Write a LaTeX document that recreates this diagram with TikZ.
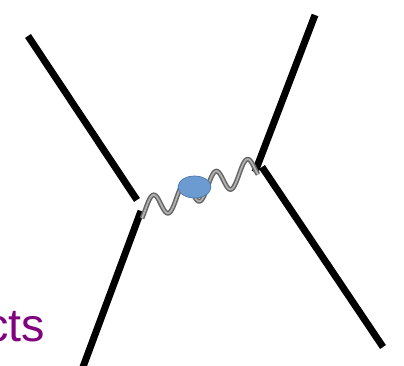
\documentclass[tikz,border=0pt]{standalone}
\usepackage{fontspec}
\setsansfont{Liberation Sans}
\definecolor{txtpurple}{HTML}{800080}
\definecolor{blobfill}{HTML}{6C9BD2}
\definecolor{blobedge}{HTML}{4A76A8}
\usetikzlibrary{shapes.geometric}
\tikzset{
  fermion/.style={line width=5.25pt, black},
  photonouter/.style={line width=3.6pt, black!60},
  photoninner/.style={line width=1.3pt, black!30},
  blob/.style={ellipse, fill=blobfill, draw=blobedge, line width=0.5pt, minimum width=24.75pt, minimum height=16.5pt, inner sep=0pt},
  label/.style={font=\sffamily\fontsize{35}{40}\selectfont, text=txtpurple, inner sep=0pt, anchor=base east}
}
\begin{document}
\begin{tikzpicture}[x=0.75pt,y=-0.75pt]
\useasboundingbox (0,0) rectangle (404,366);
\clip (0,0) rectangle (404,366);
% vertices and free ends
\coordinate (lt) at (28,36);
\coordinate (lv1) at (137,200);
\coordinate (lv2) at (141,211);
\coordinate (lb) at (80,375);
\coordinate (rt) at (315,15);
\coordinate (rv1) at (255,172);
\coordinate (rv2) at (262,167);
\coordinate (rb) at (383,347);
% fermion lines
\draw[fermion] (lt) -- (lv1);
\draw[fermion] (lv2) -- (lb);
\draw[fermion] (rt) -- (rv1);
\draw[fermion] (rv2) -- (rb);
% photon
\draw[photonouter] plot[domain=142:258, samples=160, smooth] (\x, {204 - 0.38*(\x-161) - 12*cos(11.5016*(\x-153))});
\draw[photoninner] plot[domain=142:258, samples=160, smooth] (\x, {204 - 0.38*(\x-161) - 12*cos(11.5016*(\x-153))});
% blob
\node[blob] (b) at (194.5,187) {};
% text
\node[label] (t) at (45.5,342) {cts};
\end{tikzpicture}
\end{document}
